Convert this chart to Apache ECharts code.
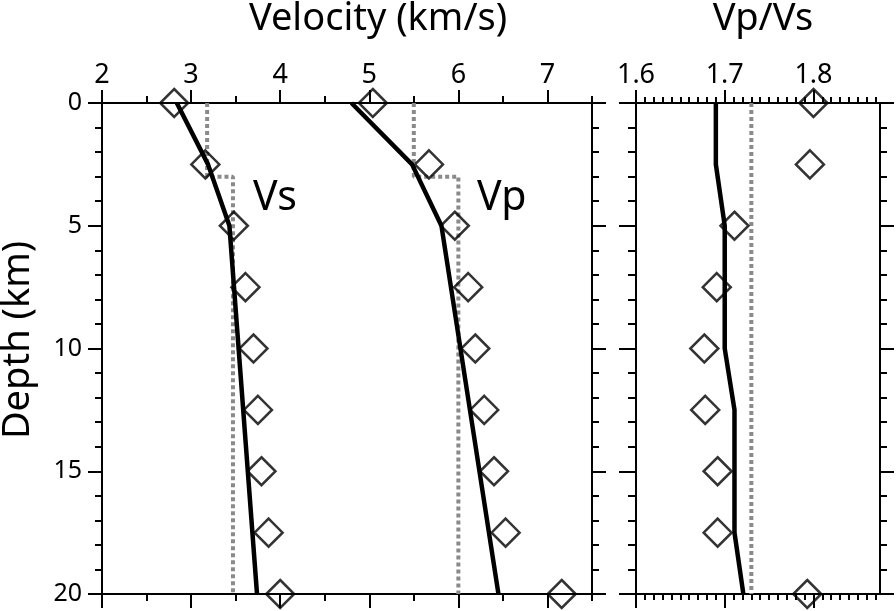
<!DOCTYPE html>
<html>
<head>
<meta charset="utf-8">
<script src="https://cdn.jsdelivr.net/npm/echarts@6/dist/echarts.min.js"></script>
<style>
  html, body { margin: 0; padding: 0; background: #fff; }
  #main { width: 896px; height: 611px; }
</style>
</head>
<body>
<div id="main"></div>
<script>
// observed values (diamonds)
var obsDepth = [0, 2.5, 5, 7.5, 10, 12.5, 15, 17.5, 20];
var vsObs = [2.81, 3.16, 3.48, 3.61, 3.70, 3.75, 3.79, 3.87, 4.00];
var vpObs = [5.04, 5.67, 5.96, 6.11, 6.19, 6.29, 6.40, 6.53, 7.16];
var vpvsObs = [1.800, 1.796, 1.711, 1.691, 1.677, 1.678, 1.692, 1.692, 1.793];

// final model (black lines)
var vsModelDepth = [0, 2.5, 5, 20];
var vsModel = [2.84, 3.19, 3.43, 3.74];
var vpModelDepth = [0, 2.5, 5, 20];
var vpModel = [4.80, 5.48, 5.81, 6.45];
var vpvsModelDepth = [0, 2.5, 5, 10, 12.5, 17.5, 20];
var vpvsModel = [1.690, 1.690, 1.700, 1.700, 1.711, 1.711, 1.721];

// starting model (grey dotted)
var refDepth = [0, 3, 3, 20];
var vsRef = [3.18, 3.18, 3.47, 3.47];
var vpRef = [5.5, 5.5, 6.0, 6.0];
var vpvsRefDepth = [0, 20];
var vpvsRef = [1.73, 1.73];

// tick values
var velMajor = [2, 3, 4, 5, 6, 7];
var velMinor = [2.5, 3.5, 4.5, 5.5, 6.5, 7.5];
var ratioMajor = [1.6, 1.7, 1.8];
var ratioMinor = [1.61, 1.62, 1.63, 1.64, 1.65, 1.66, 1.67, 1.68, 1.69,
                  1.71, 1.72, 1.73, 1.74, 1.75, 1.76, 1.77, 1.78, 1.79,
                  1.81, 1.82, 1.83, 1.84, 1.85, 1.86, 1.87];

var FONT = '"Noto Sans", "Open Sans", sans-serif';

function zip(xs, ys) {
  return xs.map(function (x, i) { return [x, ys[i]]; });
}

// one x axis carrying a set of ticks
function xAx(grid, pos, min, max, ticks, len, labels, lineShow) {
  return {
    type: 'value', gridIndex: grid, position: pos, min: min, max: max,
    axisLine: { show: lineShow, onZero: false, lineStyle: { color: '#000', width: 2 } },
    axisTick: { show: true, customValues: ticks, length: len, lineStyle: { color: '#000', width: 2 } },
    axisLabel: labels ? { show: true, customValues: labels, color: '#000', fontSize: 27, fontFamily: FONT, margin: 14 } : { show: false },
    splitLine: { show: false }
  };
}

function yAx(grid, pos, major, minor, labels) {
  return {
    type: 'value', gridIndex: grid, position: pos, min: 0, max: 20, interval: 5, inverse: true,
    axisLine: { show: true, onZero: false, lineStyle: { color: '#000', width: 2 } },
    axisTick: { show: true, length: major, lineStyle: { color: '#000', width: 2 } },
    minorTick: { show: true, splitNumber: 5, length: minor, lineStyle: { color: '#000', width: 2 } },
    axisLabel: labels ? { show: true, color: '#000', fontSize: 25, fontFamily: FONT, margin: 20 } : { show: false },
    splitLine: { show: false }
  };
}

function modelLine(x, y, xs, ys) {
  return {
    type: 'line', xAxisIndex: x, yAxisIndex: y, data: zip(xs, ys),
    symbol: 'none', clip: false, z: 3,
    lineStyle: { color: '#000', width: 4.5 }
  };
}

function refLine(x, y, xs, ys) {
  return {
    type: 'line', xAxisIndex: x, yAxisIndex: y, data: zip(xs, ys),
    symbol: 'none', clip: false, z: 2,
    lineStyle: { color: '#8a8a8a', width: 4, type: [4, 3] }
  };
}

function diamonds(x, y, xs, ys) {
  return {
    type: 'scatter', xAxisIndex: x, yAxisIndex: y, data: zip(xs, ys),
    symbol: 'diamond', symbolSize: 28, clip: false, z: 4,
    itemStyle: { color: 'rgba(0,0,0,0)', borderColor: '#000', borderWidth: 2.5 }
  };
}

var chart = echarts.init(document.getElementById('main'), null, { renderer: 'canvas' });

var option = {
  backgroundColor: '#fff',
  animation: false,
  grid: [
    { left: 102, top: 103, width: 490, height: 491 },
    { left: 636, top: 103, width: 244, height: 491 }
  ],
  xAxis: [
    xAx(0, 'top', 2, 7.5, velMajor, 13, velMajor, true),
    xAx(0, 'top', 2, 7.5, velMinor, 7, null, false),
    xAx(0, 'bottom', 2, 7.5, velMajor, 14, null, true),
    xAx(0, 'bottom', 2, 7.5, velMinor, 7, null, false),
    xAx(1, 'top', 1.6, 1.875, ratioMajor, 13, ratioMajor, true),
    xAx(1, 'top', 1.6, 1.875, ratioMinor, 6, null, false),
    xAx(1, 'bottom', 1.6, 1.875, ratioMajor, 14, null, true),
    xAx(1, 'bottom', 1.6, 1.875, ratioMinor, 6, null, false)
  ],
  yAxis: [
    yAx(0, 'left', 14, 7, true),
    yAx(0, 'right', 14, 7, false),
    yAx(1, 'left', 17, 8, false),
    yAx(1, 'right', 14, 7, false)
  ],
  graphic: [
    { type: 'text', x: 378, y: 19, style: { text: 'Velocity (km/s)', font: '38px ' + FONT, fill: '#000', textAlign: 'center', textVerticalAlign: 'middle' } },
    { type: 'text', x: 763, y: 19, style: { text: 'Vp/Vs', font: '38px ' + FONT, fill: '#000', textAlign: 'center', textVerticalAlign: 'middle' } },
    { type: 'text', x: 18, y: 340, rotation: Math.PI / 2, style: { text: 'Depth (km)', font: '38px ' + FONT, fill: '#000', textAlign: 'center', textVerticalAlign: 'middle' } },
    { type: 'text', x: 253, y: 198, style: { text: 'Vs', font: '41px ' + FONT, fill: '#000', textAlign: 'left', textVerticalAlign: 'middle' } },
    { type: 'text', x: 477, y: 198, style: { text: 'Vp', font: '41px ' + FONT, fill: '#000', textAlign: 'left', textVerticalAlign: 'middle' } }
  ],
  series: [
    refLine(0, 0, vsRef, refDepth),
    refLine(0, 0, vpRef, refDepth),
    refLine(4, 2, vpvsRef, vpvsRefDepth),
    modelLine(0, 0, vsModel, vsModelDepth),
    modelLine(0, 0, vpModel, vpModelDepth),
    modelLine(4, 2, vpvsModel, vpvsModelDepth),
    diamonds(0, 0, vsObs, obsDepth),
    diamonds(0, 0, vpObs, obsDepth),
    diamonds(4, 2, vpvsObs, obsDepth)
  ]
};

chart.setOption(option);
window.addEventListener('resize', function () { chart.resize(); });
</script>
</body>
</html>
